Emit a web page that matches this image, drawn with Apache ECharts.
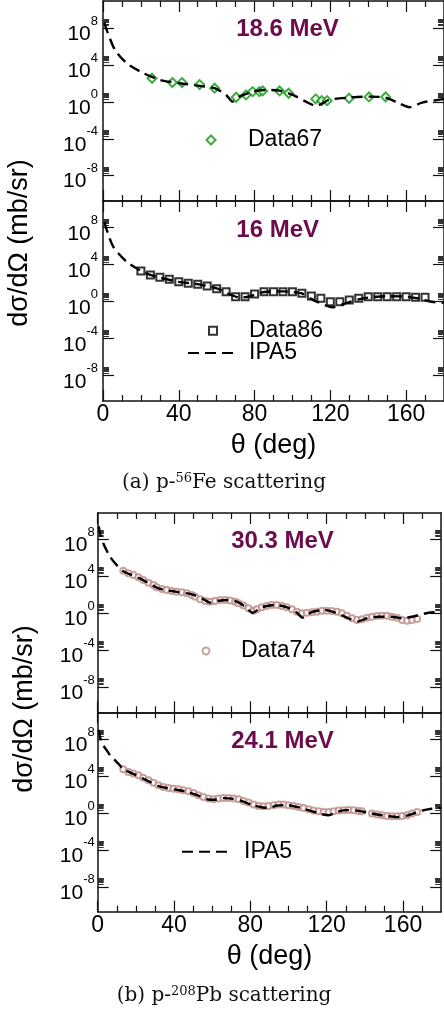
<!DOCTYPE html>
<html><head><meta charset="utf-8">
<script src="https://cdn.jsdelivr.net/npm/echarts@6/dist/echarts.min.js"></script>
<style>html,body{margin:0;padding:0;background:#fff}#c{width:444px;height:1011px}</style>
</head><body><div id="c"></div>
<script>
// ---------- axis ticks ----------
const thetaMajorTicks = [0, 40, 80, 120, 160];
const thetaMinorTicks = [10, 20, 30, 50, 60, 70, 90, 100, 110, 130, 140, 150, 170];
const yTickExponents = [8, 4, 0, -4, -8];           // labels 10^n
const yMinorFactors = [2, 3, 4, 5, 6, 7, 8, 9];      // k*10^n minor ticks

// ---------- panel labels ----------
const panelTitles = ['18.6 MeV', '16 MeV', '30.3 MeV', '24.1 MeV'];
const xTitle = 'θ (deg)';
const yTitle = 'dσ/dΩ (mb/sr)';

// ---------- data: angle (deg) and log10 of dσ/dΩ (mb/sr) ----------
// p-56Fe, 18.6 MeV
const fe186DataTheta = [25.9, 36.6, 41.7, 51.0, 58.9, 70.3, 75.5, 79.0, 82.6, 84.3, 93.2, 98.0, 112.3, 115.5, 118.3, 129.9, 140.4, 149.2];
const fe186DataLog   = [2.57, 2.10, 2.10, 1.88, 1.49, 0.51, 0.76, 1.12, 1.12, 1.19, 1.19, 0.94, 0.33, 0.14, 0.14, 0.40, 0.54, 0.54];
const fe186FitTheta  = [0.8, 1.6, 6.3, 12.5, 21.0, 30.0, 40.5, 51.0, 58.9, 65.0, 68.5, 72.0, 78.9, 86.1, 93.1, 100.2, 107.1, 112.4, 119.3, 129.9, 140.4, 149.2, 156.2, 161.8, 168.4, 178.9, 180];
const fe186FitLog    = [8.6, 8.0, 5.65, 4.2, 3.15, 2.39, 2.03, 1.74, 1.49, 0.76, 0.03, 0.58, 1.12, 1.30, 1.23, 0.76, 0.03, -0.43, 0.22, 0.47, 0.58, 0.47, -0.14, -0.58, -0.08, 0.29, 0.32];

// p-56Fe, 16 MeV
const fe16DataTheta = [20, 25, 30, 35, 40, 45, 50, 55, 60, 65, 70, 75, 80, 85, 90, 95, 100, 105, 110, 115, 120, 125, 130, 135, 140, 145, 150, 155, 160, 165, 170];
const fe16DataLog   = [3.32, 2.89, 2.64, 2.42, 2.16, 1.99, 1.88, 1.70, 1.41, 1.08, 0.54, 0.54, 0.83, 1.08, 1.08, 1.08, 1.08, 0.91, 0.62, 0.37, 0.00, 0.00, 0.18, 0.37, 0.54, 0.54, 0.54, 0.54, 0.54, 0.48, 0.48];
const fe16FitTheta  = [0.8, 1.6, 5.4, 12.5, 19.5, 25, 30, 40, 50, 60, 67, 72, 77, 85, 95, 102, 105, 110.7, 119.4, 121, 128, 135, 140, 150, 160, 168, 172, 179, 180];
const fe16FitLog    = [8.6, 8.0, 5.95, 4.32, 3.4, 2.9, 2.6, 2.15, 1.9, 1.45, 0.8, 0.45, 0.55, 1.05, 1.12, 1.0, 0.9, 0.2, -0.54, -0.6, -0.17, 0.25, 0.45, 0.6, 0.55, 0.3, 0.05, -0.1, -0.1];

// p-208Pb, 30.3 MeV
const pb303DataTheta = [13.4, 16.1, 18.7, 21.3, 23.9, 26.6, 29.2, 30.9, 33.6, 36.2, 38.8, 41.4, 44.1, 46.7, 49.3, 51.0, 53.7, 56.3, 58.9, 61.5, 64.2, 66.8, 69.4, 72.0, 73.8, 76.4, 79.0, 81.7, 83.4, 86.0, 88.6, 91.3, 93.9, 96.5, 99.1, 101.8, 104.4, 107.0, 109.6, 112.3, 114.9, 117.5, 120.1, 122.7, 125.4, 128.0, 130.6, 133.3, 135.9, 138.5, 141.1, 143.7, 146.4, 149.0, 151.6, 154.2, 156.9, 159.5, 162.1, 164.7, 167.4];
const pb303DataLog   = [4.61, 4.32, 4.14, 3.89, 3.60, 3.31, 3.06, 2.81, 2.63, 2.52, 2.41, 2.34, 2.27, 2.16, 1.98, 1.80, 1.51, 1.33, 1.26, 1.33, 1.44, 1.44, 1.37, 1.26, 1.08, 0.83, 0.54, 0.28, 0.43, 0.65, 0.79, 0.90, 0.90, 0.79, 0.65, 0.43, 0.18, 0.00, 0.07, 0.10, 0.18, 0.28, 0.28, 0.25, 0.18, 0.00, -0.26, -0.54, -0.72, -0.65, -0.47, -0.36, -0.29, -0.26, -0.26, -0.36, -0.47, -0.72, -0.80, -0.72, -0.62];
const pb303FitTheta  = [0.6, 1.2, 2.9, 6.5, 10.0, 13.4, 23.1, 31.8, 40.6, 49.3, 54.6, 59.0, 63.3, 68.5, 72.9, 77.3, 81.1, 86.0, 93.0, 99.2, 104.4, 107.4, 112.3, 119.3, 124.5, 131.5, 135.9, 141.1, 147.2, 154.2, 159.5, 164.7, 173.4, 180];
const pb303FitLog    = [9.4, 8.65, 7.57, 6.1, 5.2, 4.55, 3.67, 2.7, 2.34, 2.05, 1.62, 1.15, 1.36, 1.44, 1.25, 0.71, 0.06, 0.65, 0.9, 0.65, 0.06, -0.47, 0.14, 0.36, 0.06, -0.54, -0.9, -0.54, -0.37, -0.37, -0.54, -0.37, 0.06, 0.18];

// p-208Pb, 24.1 MeV
const pb241DataTheta = [13.4, 16.1, 18.7, 21.3, 23.9, 26.6, 29.2, 31.8, 34.4, 37.1, 39.7, 42.3, 44.9, 47.6, 50.2, 52.8, 55.4, 58.0, 60.7, 63.3, 65.9, 68.5, 71.2, 73.8, 76.4, 79.0, 81.7, 84.3, 86.9, 89.5, 92.2, 94.8, 97.4, 100.0, 102.6, 105.3, 107.9, 110.5, 113.1, 115.8, 118.4, 121.0, 123.6, 126.3, 128.9, 131.5, 134.1, 136.7, 138.5, 143.7, 146.4, 149.0, 151.6, 154.2, 156.9, 159.5, 162.1, 164.7, 167.4];
const pb241DataLog   = [4.72, 4.44, 4.26, 4.08, 3.82, 3.54, 3.28, 2.99, 2.81, 2.71, 2.63, 2.56, 2.45, 2.34, 2.17, 1.91, 1.73, 1.55, 1.48, 1.55, 1.63, 1.63, 1.55, 1.48, 1.30, 1.12, 0.90, 0.76, 0.72, 0.76, 0.83, 0.90, 0.90, 0.83, 0.76, 0.65, 0.54, 0.40, 0.26, 0.18, 0.11, 0.11, 0.18, 0.26, 0.29, 0.33, 0.29, 0.22, 0.18, -0.07, -0.18, -0.25, -0.32, -0.36, -0.36, -0.32, -0.25, -0.07, 0.11];
const pb241FitTheta  = [0.6, 1.2, 3.0, 4.7, 6.5, 9.1, 10.8, 13.4, 20, 26, 32, 40, 47, 53, 58, 61, 66, 71, 76, 81, 86, 89, 94, 99, 105, 112, 117, 121, 126, 131, 136, 141, 147, 152, 157, 162, 167, 171, 175, 180];
const pb241FitLog    = [9.0, 8.2, 7.3, 6.8, 6.24, 5.7, 5.34, 4.75, 4.1, 3.5, 2.9, 2.55, 2.3, 1.85, 1.45, 1.42, 1.6, 1.52, 1.25, 0.85, 0.62, 0.55, 0.8, 0.85, 0.62, 0.2, -0.1, -0.25, 0.15, 0.3, 0.25, 0.05, -0.2, -0.35, -0.45, -0.3, 0.05, 0.3, 0.45, 0.55];

// ---------- layout ----------
const FONT = '"Liberation Sans", Arial, Helvetica, sans-serif';
const SERIF = '"DejaVu Serif", "Liberation Serif", serif';
const INK = '#111';
const TITLE_COLOR = '#6b0c4b';
const grids = [
  {left: 103,  top: 1,     width: 342,   height: 200},
  {left: 103,  top: 201,   width: 342,   height: 200},
  {left: 97.7, top: 513,   width: 343.5, height: 199.3},
  {left: 97.7, top: 712.3, width: 343.5, height: 199.4}
];
const yRanges = [[-10.75, 10.95], [-10.73, 10.89], [-10.7, 10.84], [-10.7, 10.9]];
const yLabelMargins = [5, 5, 3, 3];

const pairs = (xs, ys) => xs.map((x, i) => [x, ys[i]]);
const minorY = [];
yTickExponents.forEach(n => yMinorFactors.forEach(k => minorY.push(n + Math.log10(k))));

const xAxes = [], yAxes = [];
grids.forEach((g, i) => {
  const bottomPanel = i % 2 === 1;
  ['bottom', 'top'].forEach(pos => {
    // major ticks
    xAxes.push({
      gridIndex: i, type: 'value', position: pos, min: 0, max: 180,
      axisLine: {show: true, onZero: false, lineStyle: {color: INK, width: 1.5}},
      axisTick: {show: true, inside: true, length: 11, customValues: thetaMajorTicks, lineStyle: {color: INK, width: 1.2}},
      splitLine: {show: false},
      axisLabel: {show: bottomPanel && pos === 'bottom', customValues: thetaMajorTicks, margin: 2, fontSize: 23, color: '#000', fontFamily: FONT},
      name: (bottomPanel && pos === 'bottom') ? xTitle : '',
      nameLocation: 'middle', nameGap: 31,
      nameTextStyle: {fontSize: 27, fontFamily: FONT, color: '#000'}
    });
    // minor ticks
    xAxes.push({
      gridIndex: i, type: 'value', position: pos, min: 0, max: 180,
      axisLine: {show: false, onZero: false},
      axisTick: {show: true, inside: true, length: 6, customValues: thetaMinorTicks, lineStyle: {color: INK, width: 1.2}},
      splitLine: {show: false}, axisLabel: {show: false}
    });
  });
  const [ymin, ymax] = yRanges[i];
  ['left', 'right'].forEach(pos => {
    yAxes.push({
      gridIndex: i, type: 'value', position: pos, min: ymin, max: ymax,
      axisLine: {show: true, onZero: false, lineStyle: {color: INK, width: 1.5}},
      axisTick: {show: true, inside: true, length: 11, customValues: yTickExponents, lineStyle: {color: INK, width: 1.2}},
      splitLine: {show: false},
      axisLabel: {
        show: pos === 'left', customValues: yTickExponents, margin: yLabelMargins[i],
        formatter: v => '{h| }{b|10}{s|' + v + '}',
        padding: [3, 0, 0, 0],
        rich: {
          h: {fontSize: 1, lineHeight: 30},
          b: {fontSize: 21, lineHeight: 21, verticalAlign: 'bottom', fontFamily: FONT, color: '#000'},
          s: {fontSize: 13, lineHeight: 13, verticalAlign: 'top', fontFamily: FONT, color: '#000'}
        }
      }
    });
    yAxes.push({
      gridIndex: i, type: 'value', position: pos, min: ymin, max: ymax,
      axisLine: {show: false, onZero: false},
      axisTick: {show: true, inside: true, length: 6, customValues: minorY, lineStyle: {color: '#333', width: 1}},
      splitLine: {show: false}, axisLabel: {show: false}
    });
  });
});

const fitLine = (i, xs, ys) => ({
  type: 'line', name: 'IPA5', xAxisIndex: 4 * i, yAxisIndex: 4 * i,
  data: pairs(xs, ys), symbol: 'none', showSymbol: false, smooth: 0.25, z: 5,
  itemStyle: {color: '#000'},
  lineStyle: {color: '#000', width: 2.4, type: [11, 6]}, clip: true
});
const dataSeries = (i, name, xs, ys, symbol, size, color, bw) => ({
  type: 'scatter', name, xAxisIndex: 4 * i, yAxisIndex: 4 * i,
  data: pairs(xs, ys), symbol, symbolSize: size, z: 3,
  itemStyle: {color: color, borderColor: color, borderWidth: bw}
});

const series = [
  dataSeries(0, 'Data67', fe186DataTheta, fe186DataLog, 'emptyDiamond', 9, '#0f960f', 1.7),
  fitLine(0, fe186FitTheta, fe186FitLog),
  dataSeries(1, 'Data86', fe16DataTheta, fe16DataLog, 'emptyRect', 7, '#000', 1.6),
  fitLine(1, fe16FitTheta, fe16FitLog),
  dataSeries(2, 'Data74', pb303DataTheta, pb303DataLog, 'emptyCircle', 6, '#bb8a86', 1.8),
  fitLine(2, pb303FitTheta, pb303FitLog),
  dataSeries(3, 'Data74 ', pb241DataTheta, pb241DataLog, 'emptyCircle', 6, '#bb8a86', 1.8),
  fitLine(3, pb241FitTheta, pb241FitLog)
];

const legendText = pad => ({fontSize: 23, fontFamily: FONT, color: '#000', lineHeight: 24, padding: [0, 0, 0, pad]});
const lineLegendItem = {name: 'IPA5', itemStyle: {opacity: 0, borderWidth: 0}};
const legends = [
  {data: ['Data67'], left: 205.5, top: 128, itemWidth: 9, itemHeight: 9, textStyle: legendText(27.5)},
  {data: ['Data86'], left: 208, top: 318.7, itemWidth: 8, itemHeight: 8, textStyle: legendText(27)},
  {data: [lineLegendItem], left: 187, top: 341, itemWidth: 50, itemHeight: 14, textStyle: legendText(6)},
  {data: ['Data74'], left: 201.5, top: 639, itemWidth: 7, itemHeight: 7, textStyle: legendText(26.5)},
  {data: [lineLegendItem], left: 181, top: 839.7, itemWidth: 51, itemHeight: 14, textStyle: legendText(6)}
].map(l => Object.assign({padding: 0, selectedMode: false, orient: 'vertical'}, l));

const titleCenters = [[287.5, 17.5], [277.7, 218], [282.5, 529.7], [282.5, 729]];
const titles = panelTitles.map((t, i) => ({
  text: t, left: titleCenters[i][0], top: titleCenters[i][1], textAlign: 'center', padding: 0,
  textStyle: {fontSize: 24, fontWeight: 'bold', fontFamily: FONT, color: TITLE_COLOR}
}));

const captionStyle = txt => ({
  text: txt, fontSize: 20, fontFamily: SERIF, fill: '#111', align: 'center', verticalAlign: 'middle', lineHeight: 22,
  rich: {s: {fontSize: 13, lineHeight: 13, verticalAlign: 'top', fontFamily: SERIF, fill: '#111'}}
});
const graphic = [
  {type: 'text', x: 20, y: 243, rotation: Math.PI / 2,
   style: {text: yTitle, fontSize: 27, fontFamily: FONT, fill: '#000', align: 'center', verticalAlign: 'middle'}},
  {type: 'text', x: 25, y: 709, rotation: Math.PI / 2,
   style: {text: yTitle, fontSize: 27, fontFamily: FONT, fill: '#000', align: 'center', verticalAlign: 'middle'}},
  {type: 'text', x: 224, y: 483, style: captionStyle('(a) p-{s|56}Fe scattering')},
  {type: 'text', x: 224, y: 996, style: captionStyle('(b) p-{s|208}Pb scattering')}
];

const chart = echarts.init(document.getElementById('c'), null, {renderer: 'canvas'});
chart.setOption({
  animation: false,
  backgroundColor: '#fff',
  title: titles,
  legend: legends,
  grid: grids.map(g => Object.assign({containLabel: false}, g)),
  xAxis: xAxes,
  yAxis: yAxes,
  series: series,
  graphic: graphic
});
</script></body></html>
